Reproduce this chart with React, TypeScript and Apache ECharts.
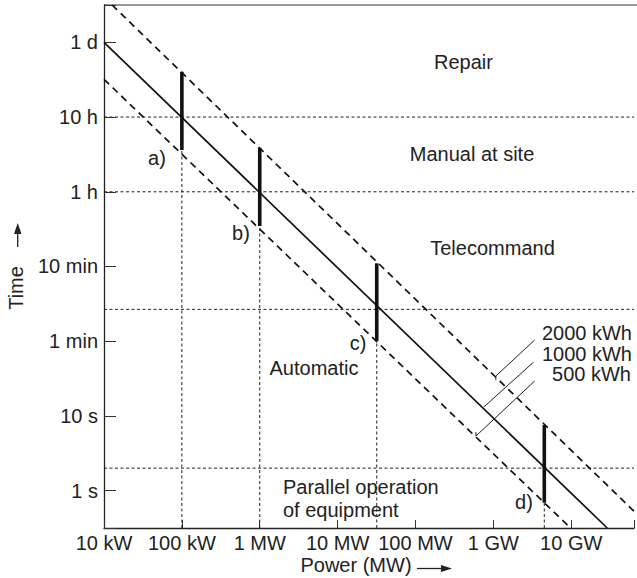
import React, { useEffect, useRef } from 'react';
import * as echarts from 'echarts';

// Axis ticks (time axis is schematic: equally spaced labelled steps)
const powerTicks = [0.01, 0.1, 1, 10, 100, 1000, 10000];
const powerLabels = ['10 kW', '100 kW', '1 MW', '10 MW', '100 MW', '1 GW', '10 GW'];
const timeTicks = [1, 10, 100, 1000, 10000, 100000, 1000000];
const timeLabels = ['1 s', '10 s', '1 min', '10 min', '1 h', '10 h', '1 d'];

const powerMin = 0.01;
const powerMax = 64000;
const timeMin = 0.3162;
const timeMax = 3162278;

// Energy lines [power, time]
const line2000 = [[0.0127, 3162278], [64000, 0.53]];
const line1000 = [[0.01, 1000000], [29000, 0.3162]];
const line500 = [[0.01, 320000], [9800, 0.3162]];

// Region thresholds on the time axis
const thresholds = [100000, 10000, 267, 2];

// Cases a) - d)
const caseNames = ['a)', 'b)', 'c)', 'd)'];
const casePower = [0.1, 1, 31.8, 4510];
const caseTop = [405000, 38900, 1103, 7.55];
const caseBottom = [36200, 3480, 101, 0.689];

// Leader lines of the energy labels
const leader2000 = [[3388, 103.7], [1076, 34.2], [1076, 30.2]];
const leader1000 = [[3289, 52.6], [757, 13.2]];
const leader500 = [[3388, 29.3], [597, 5.38], [597, 6.09]];

const FONT = '"Liberation Sans", Arial, Helvetica, sans-serif';
const TXT = '#222';
const FS = 20;

function seg(data: number[][], width: number, type: any, color = '#111') {
  return {
    type: 'line',
    data,
    symbol: 'none',
    silent: true,
    clip: true,
    lineStyle: { width, type, color },
  };
}

function labelFor(ticks: number[], labels: string[]) {
  return (v: number) => {
    const i = ticks.findIndex((t) => Math.abs(Math.log10(v / t)) < 0.01);
    return i >= 0 ? labels[i] : '';
  };
}

export default function App() {
  const ref = useRef<HTMLDivElement>(null);
  useEffect(() => {
    if (!ref.current) return;
    const chart = echarts.init(ref.current, undefined, { renderer: 'svg' });
    const series: any[] = [];
    thresholds.forEach((t) => series.push(seg([[powerMin, t], [powerMax, t]], 1, [3, 2.5], '#222')));
    casePower.forEach((p, i) => series.push(seg([[p, timeMin], [p, caseBottom[i]]], 1, [3, 2.5], '#222')));
    series.push(seg(line2000, 1.7, [7, 5]));
    series.push(seg(line500, 1.7, [7, 5]));
    series.push(seg(line1000, 1.7, 'solid'));
    casePower.forEach((p, i) => series.push(seg([[p, caseBottom[i]], [p, caseTop[i]]], 3.6, 'solid')));
    series.push(seg(leader2000, 1, 'solid', '#222'));
    series.push(seg(leader1000, 1, 'solid', '#222'));
    series.push(seg(leader500, 1, 'solid', '#222'));

    const caseLabelPos = [[157, 158], [241, 233], [358, 343], [524, 502]];
    const text = (t: string, x: number, y: number, align = 'center', extra: any = {}) => ({
      type: 'text',
      x,
      y,
      silent: true,
      style: { text: t, fill: TXT, font: `${FS}px ${FONT}`, align, verticalAlign: 'middle' },
      ...extra,
    });

    const option: any = {
      animation: false,
      textStyle: { fontFamily: FONT },
      grid: { left: 104, right: 0, top: 5, bottom: 50, containLabel: false },
      xAxis: {
        type: 'log',
        logBase: 10,
        min: powerMin,
        max: powerMax,
        axisLine: { show: true, lineStyle: { color: '#222', width: 1.3 } },
        axisTick: { show: true, inside: true, length: 8, lineStyle: { color: '#333', width: 1 } },
        splitLine: { show: false },
        axisLabel: { formatter: labelFor(powerTicks, powerLabels), color: TXT, fontSize: FS, fontFamily: FONT, margin: 5 },
      },
      yAxis: {
        type: 'log',
        logBase: 10,
        min: timeMin,
        max: timeMax,
        axisLine: { show: true, lineStyle: { color: '#222', width: 1.3 } },
        axisTick: { show: true, inside: true, length: 12, lineStyle: { color: '#333', width: 1 } },
        splitLine: { show: false },
        axisLabel: { formatter: labelFor(timeTicks, timeLabels), color: TXT, fontSize: FS, fontFamily: FONT, margin: 6 },
      },
      series,
      graphic: [
        { type: 'line', silent: true, shape: { x1: 104, y1: 5, x2: 637, y2: 5 }, style: { stroke: '#777', lineWidth: 1.5 } },
        text('Repair', 463.5, 62),
        text('Manual at site', 472, 154),
        text('Telecommand', 492.5, 248),
        text('Automatic', 314, 368),
        text('Parallel operation', 283, 487, 'left'),
        text('of equipment', 283, 510, 'left'),
        text('2000 kWh', 632, 333, 'right'),
        text('1000 kWh', 632, 353.5, 'right'),
        text('500 kWh', 631, 374, 'right'),
        ...caseNames.map((n, i) => text(n, caseLabelPos[i][0], caseLabelPos[i][1])),
        text('Power (MW)', 356, 565),
        { type: 'line', silent: true, shape: { x1: 417, y1: 568.5, x2: 442, y2: 568.5 }, style: { stroke: '#222', lineWidth: 1.3 } },
        { type: 'polygon', silent: true, shape: { points: [[441, 565], [441, 572], [452, 568.5]] }, style: { fill: '#222' } },
        text('Time', 16, 288, 'center', { rotation: Math.PI / 2 }),
        { type: 'line', silent: true, shape: { x1: 17.7, y1: 247, x2: 17.7, y2: 233 }, style: { stroke: '#222', lineWidth: 1.3 } },
        { type: 'polygon', silent: true, shape: { points: [[14, 234], [21.5, 234], [17.7, 223]] }, style: { fill: '#222' } },
      ],
    };
    chart.setOption(option);
    return () => chart.dispose();
  }, []);
  return <div ref={ref} style={{ position: 'fixed', left: 0, top: 0, width: 637, height: 578, background: '#fff' }} />;
}
